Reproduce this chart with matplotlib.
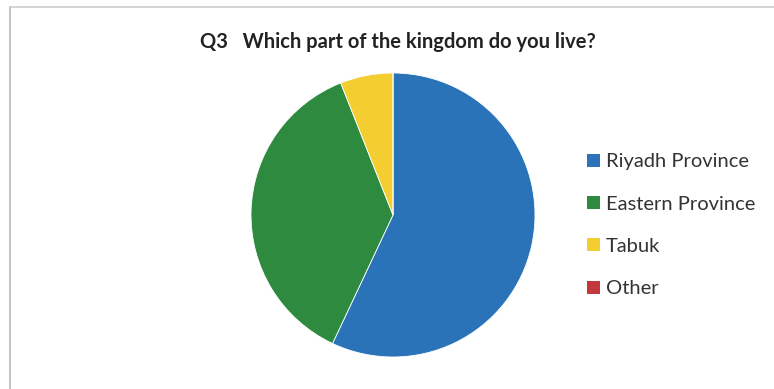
import matplotlib
matplotlib.use("Agg")
import matplotlib.pyplot as plt
from matplotlib.patches import Patch
from matplotlib.lines import Line2D

categories = ["Riyadh Province", "Eastern Province", "Tabuk", "Other"]
values = [57, 37, 6, 0.0]
colors = ["#2a73b8", "#2e8a3f", "#f4cd30", "#c2383c"]
title = "Q3   Which part of the kingdom do you live?"

W, H = 774, 389
fig = plt.figure(figsize=(W / 100, H / 100), dpi=100)
fig.patch.set_facecolor("white")

# frame lines (left and top)
fig.add_artist(Line2D([10 / W, 10 / W], [0, 1 - 7 / H], color="#b8b8b8", lw=1.2))
fig.add_artist(Line2D([10 / W, 1], [1 - 7 / H, 1 - 7 / H], color="#cccccc", lw=1.2))

cx, cy, r = 393, 215, 142
ax = fig.add_axes([(cx - r) / W, 1 - (cy + r) / H, 2 * r / W, 2 * r / H])
ax.pie(values, colors=colors, startangle=90, counterclock=False,
       wedgeprops=dict(linewidth=0.6, edgecolor="white"))
ax.set_aspect("equal")
ax.set_xlim(-1, 1)
ax.set_ylim(-1, 1)
ax.axis("off")

fig.text(398 / W, 1 - 42 / H, title, ha="center", va="center",
         fontsize=14.5, fontweight="bold", family="Lato", color="#222222")

handles = [Patch(facecolor=c, edgecolor="none") for c in colors]
leg = fig.legend(handles, categories, loc="upper left",
                 bbox_to_anchor=(569 / W, 1 - 135 / H), frameon=False,
                 prop=dict(family="Lato", size=14.5), labelspacing=1.26,
                 handlelength=0.62, handleheight=0.62, handletextpad=0.3)
for t in leg.get_texts():
    t.set_color("#333333")

fig.savefig("out.png", dpi=100)
